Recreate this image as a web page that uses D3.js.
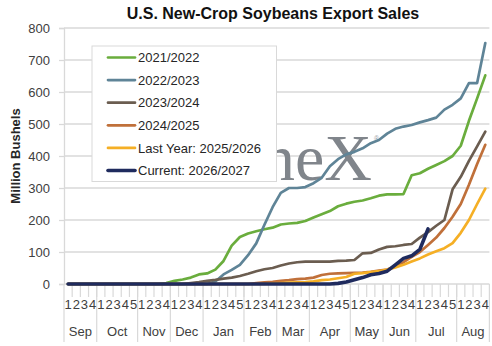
<!DOCTYPE html>
<html>
<head>
<meta charset="utf-8">
<script src="https://cdn.jsdelivr.net/npm/d3@7"></script>
<style>
html,body{margin:0;padding:0;background:#fff;}
svg{display:block;font-family:"Liberation Sans",Arial,sans-serif;}
</style>
</head>
<body>
<svg id="chart" width="492" height="346"></svg>
<script>
const months = ["Sep","Oct","Nov","Dec","Jan","Feb","Mar","Apr","May","Jun","Jul","Aug"];
const weeksPerMonth = [4,5,4,4,5,4,4,5,4,4,5,4];
const yTicks = [0,100,200,300,400,500,600,700,800];
const seriesNames = ["2021/2022","2022/2023","2023/2024","2024/2025","Last Year: 2025/2026","Current: 2026/2027"];
const seriesColors = ["#6AAD3D","#5F8497","#6B5D50","#C0703A","#F5AF25","#1F2B5E"];
const seriesWidths = [2.7,2.7,2.7,2.7,2.7,3.6];

const s2021 = [0,0,0,0,0,0,0,0,0,0,0,0,3,10,14,20,30,33,45,72,120,147,158,165,171,176,186,189,191,197,208,218,228,243,251,257,261,268,276,280,280,281,340,346,360,372,384,400,432,510,580,652];
const s2022 = [0,0,0,0,0,0,0,0,0,0,0,0,0,0,0,0,0,0,8,30,44,60,90,127,185,240,285,300,300,303,315,332,368,390,405,413,424,440,450,470,485,492,497,505,512,520,545,560,580,628,628,753];
const s2023 = [0,0,0,0,0,0,0,0,0,0,0,0,0,0,0,3,6,10,13,17,20,25,32,40,46,50,58,64,68,70,70,70,70,72,73,75,96,97,108,116,118,122,125,145,162,182,200,296,335,385,430,476];
const s2024 = [0,0,0,0,0,0,0,0,0,0,0,0,0,0,0,0,0,0,0,0,0,0,0,3,5,7,10,12,15,17,20,28,32,33,34,35,36,38,42,45,55,68,85,100,122,145,175,210,250,310,375,435];
const s2025 = [0,0,0,0,0,0,0,0,0,0,0,0,0,0,0,0,0,0,0,0,0,0,0,0,0,2,3,4,5,6,8,12,14,18,22,32,34,37,40,45,52,60,70,80,92,102,112,128,160,200,250,298];
const s2026 = [0,0,0,0,0,0,0,0,0,0,0,0,0,0,0,0,0,0,0,0,0,0,0,0,0,0,0,0,0,0,0,0,0,2,6,13,20,29,33,40,60,80,88,108,172,null,null,null,null,null,null,null];

const allSeries = [s2021,s2022,s2023,s2024,s2025,s2026];

// week categories
const weeks = [];
months.forEach((m,mi)=>{ for(let w=1; w<=weeksPerMonth[mi]; w++) weeks.push({month:m, week:w}); });

const svg = d3.select("#chart");
const pLeft = 64, pRight = 489.4, pTop = 28, pBottom = 284;

const x = d3.scaleBand().domain(d3.range(weeks.length)).range([pLeft,pRight]).paddingInner(0).paddingOuter(0);
const xc = i => x(i) + x.bandwidth()/2;
const y = d3.scaleLinear().domain([0,800]).range([pBottom, pTop]);

svg.append("rect").attr("width",492).attr("height",346).attr("fill","#fff");

const defs = svg.append("defs");
defs.append("clipPath").attr("id","wmclip").append("rect")
  .attr("x",277).attr("y",100).attr("width",120).attr("height",100);

// gridlines
svg.append("g").selectAll("line").data(yTicks.filter(t=>t>0)).join("line")
  .attr("x1",pLeft).attr("x2",pRight).attr("y1",d=>y(d)).attr("y2",d=>y(d))
  .attr("stroke","#D9D9D9").attr("stroke-width",1.3);

// y axis
const yAxis = d3.axisLeft(y).tickValues(yTicks).tickSize(5).tickPadding(9);
const gy = svg.append("g").attr("transform",`translate(${pLeft},0)`).call(yAxis);
gy.select(".domain").attr("stroke","#D9D9D9").attr("stroke-width",1.3);
gy.selectAll(".tick line").attr("stroke","#D9D9D9").attr("stroke-width",1.3);
gy.selectAll(".tick text").attr("font-size",13).attr("fill","#404040").attr("font-family","Liberation Sans, Arial, sans-serif");

// watermark (partly hidden behind the legend)
svg.append("g").attr("clip-path","url(#wmclip)")
  .append("text").attr("x",372).attr("y",180).attr("text-anchor","end")
  .attr("font-family","Liberation Serif, Times New Roman, serif").attr("font-size",66)
  .attr("fill","#80858B")
  .text("neX");
svg.append("text").attr("x",374).attr("y",141).attr("font-family","Liberation Sans, sans-serif").attr("font-size",7).attr("fill","#9AA0A6").text("®");

// x axis: baseline
svg.append("line").attr("x1",pLeft).attr("x2",pRight).attr("y1",pBottom).attr("y2",pBottom).attr("stroke","#D9D9D9").attr("stroke-width",1.3);

// week ticks
const gx = svg.append("g");
gx.selectAll("line.wk").data(d3.range(1,weeks.length)).join("line").attr("class","wk")
  .attr("x1",i=>x(i)).attr("x2",i=>x(i)).attr("y1",pBottom).attr("y2",297)
  .attr("stroke","#D9D9D9").attr("stroke-width",1.2);
// month separators
const bounds = [0];
weeksPerMonth.forEach(n=>bounds.push(bounds[bounds.length-1]+n));
gx.selectAll("line.mo").data(bounds).join("line").attr("class","mo")
  .attr("x1",b=> b<weeks.length ? x(b) : pRight).attr("x2",b=> b<weeks.length ? x(b) : pRight)
  .attr("y1",pBottom).attr("y2",342)
  .attr("stroke","#D9D9D9").attr("stroke-width",1.2);
// week labels
gx.selectAll("text.wl").data(weeks).join("text").attr("class","wl")
  .attr("x",(d,i)=>xc(i)).attr("y",309).attr("text-anchor","middle")
  .attr("font-size",13).attr("fill","#404040").text(d=>d.week);
// month labels
gx.selectAll("text.ml").data(months).join("text").attr("class","ml")
  .attr("x",(d,i)=>{ const a = bounds[i], b = bounds[i+1]; return (x(a) + (b<weeks.length? x(b): pRight))/2; })
  .attr("y",336).attr("text-anchor","middle")
  .attr("font-size",13).attr("fill","#404040").text(d=>d);

// lines
const line = d3.line().defined(d=>d!=null).x((d,i)=>xc(i)).y(d=>y(d));
svg.append("g").selectAll("path").data(allSeries).join("path")
  .attr("d",line).attr("fill","none")
  .attr("stroke",(d,i)=>seriesColors[i]).attr("stroke-width",(d,i)=>seriesWidths[i])
  .attr("stroke-linejoin","round").attr("stroke-linecap","round");

// legend
const lg = svg.append("g");
lg.append("rect").attr("x",92).attr("y",46).attr("width",184.5).attr("height",135.5)
  .attr("fill","#fff").attr("stroke","#D9D9D9").attr("stroke-width",1);
const rows = lg.selectAll("g.row").data(seriesNames).join("g").attr("class","row")
  .attr("transform",(d,i)=>`translate(0,${57.5 + i*22.6})`);
rows.append("line").attr("x1",108).attr("x2",135).attr("y1",0).attr("y2",0)
  .attr("stroke",(d,i)=>seriesColors[i]).attr("stroke-width",(d,i)=>seriesWidths[i]).attr("stroke-linecap","round");
rows.append("text").attr("x",138).attr("y",0).attr("dy","0.36em")
  .attr("font-size",13).attr("fill","#262626").text(d=>d);

// title
svg.append("text").attr("x",273).attr("y",19).attr("text-anchor","middle")
  .attr("font-size",16).attr("font-weight","bold").attr("fill","#111").text("U.S. New-Crop Soybeans Export Sales");

// y axis title
svg.append("text").attr("transform","translate(20,156) rotate(-90)").attr("text-anchor","middle")
  .attr("font-size",13).attr("font-weight","bold").attr("fill","#262626").text("Million Bushels");
</script>
</body>
</html>
